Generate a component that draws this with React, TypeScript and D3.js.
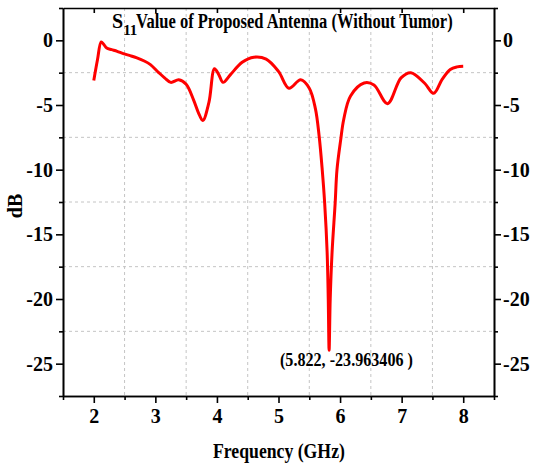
import { useEffect, useRef } from "react";
import * as d3 from "d3";

// S11 readings (GHz, dB) picked off the plot
const freq = [
  2.0, 2.06, 2.12, 2.16, 2.21, 2.29, 2.38, 2.48, 2.6, 2.7, 2.82, 2.92, 3.05, 3.15,
  3.25, 3.38, 3.5, 3.62, 3.7, 3.77, 3.87, 3.96, 4.03, 4.1, 4.22, 4.41, 4.6, 4.8,
  5.0, 5.17, 5.36, 5.5, 5.6, 5.66, 5.71, 5.75, 5.79, 5.808, 5.822, 5.84, 5.87,
  5.92, 5.95, 6.01, 6.06, 6.17, 6.39, 6.55, 6.77, 6.99, 7.15, 7.37, 7.52, 7.66,
  7.79, 7.9, 8.0,
];
const s11 = [
  -3.1, -1.5, -0.12, -0.3, -0.6, -0.72, -0.85, -1.03, -1.2, -1.36, -1.6, -1.88,
  -2.47, -2.9, -3.25, -3.05, -3.4, -4.6, -5.6, -6.2, -4.8, -2.2, -2.65, -3.25,
  -2.65, -1.7, -1.3, -1.45, -2.4, -3.7, -3.05, -3.7, -5.3, -7.4, -10.0, -12.6,
  -16.4, -20.0, -23.963406, -20.0, -16.4, -12.6, -10.0, -7.7, -6.1, -4.3, -3.3,
  -3.45, -4.9, -2.9, -2.5, -3.3, -4.1, -3.0, -2.25, -2.05, -2.0,
];
const xTicks = [2, 3, 4, 5, 6, 7, 8];
const xMinor = [1.5, 2.5, 3.5, 4.5, 5.5, 6.5, 7.5, 8.5];
const yTicks = [0, -5, -10, -15, -20, -25];
const yMinor = [2.5, -2.5, -7.5, -12.5, -17.5, -22.5, -27.5];
const minLabel = "(5.822, -23.963406 )";

export default function App() {
  const svgRef = useRef<SVGSVGElement>(null);

  useEffect(() => {
    const svg = d3.select(svgRef.current);
    svg.selectAll("*").remove();

    const x = d3.scaleLinear().domain([1.5, 8.5]).range([63, 494]);
    const y = d3.scaleLinear().domain([2.5, -27.5]).range([8, 396]);
    const font = "'Liberation Serif', 'Times New Roman', serif";
    const plain = (d: any) => String(d); // hyphen minus like the original

    // dashed grid at the half steps
    const grid = svg.append("g").attr("stroke", "#c4c4c4").attr("stroke-dasharray", "3,3");
    xMinor.slice(1, -1).forEach((v) =>
      grid.append("line").attr("x1", x(v)).attr("x2", x(v)).attr("y1", y(2.5)).attr("y2", y(-27.5))
    );
    yMinor.slice(1, -1).forEach((v) =>
      grid.append("line").attr("x1", x(1.5)).attr("x2", x(8.5)).attr("y1", y(v)).attr("y2", y(v))
    );

    const styleAxis = (g: any) => {
      g.selectAll("path, line").attr("stroke", "#000").attr("stroke-width", 1.6);
      g.selectAll("text")
        .attr("fill", "#000")
        .style("font-family", font)
        .style("font-weight", "bold")
        .style("font-size", "20px");
    };
    // minor / unlabelled axes: drop the empty text nodes
    const noText = (g: any) => {
      g.selectAll("path, line").attr("stroke", "#000").attr("stroke-width", 1.6);
      g.selectAll("text").remove();
    };

    const bottom = svg.append("g").attr("transform", `translate(0,${y(-27.5)})`);
    bottom.call(d3.axisBottom(x).tickValues(xTicks).tickSize(7).tickSizeOuter(0).tickPadding(6).tickFormat(plain));
    bottom.call(styleAxis);
    const bottomMinor = svg.append("g").attr("transform", `translate(0,${y(-27.5)})`);
    bottomMinor.call(d3.axisBottom(x).tickValues(xMinor).tickSize(4).tickSizeOuter(0));
    bottomMinor.call(noText);

    const top = svg.append("g").attr("transform", `translate(0,${y(2.5)})`);
    top.call(d3.axisBottom(x).tickValues(xTicks).tickSize(5).tickSizeOuter(0));
    top.call(noText);

    const left = svg.append("g").attr("transform", `translate(${x(1.5)},0)`);
    left.call(d3.axisLeft(y).tickValues(yTicks).tickSize(7).tickSizeOuter(0).tickPadding(3).tickFormat(plain));
    left.call(styleAxis);
    const leftMinor = svg.append("g").attr("transform", `translate(${x(1.5)},0)`);
    leftMinor.call(d3.axisLeft(y).tickValues(yMinor).tickSize(4).tickSizeOuter(0));
    leftMinor.call(noText);

    const right = svg.append("g").attr("transform", `translate(${x(8.5)},0)`);
    right.call(d3.axisRight(y).tickValues(yTicks).tickSize(7).tickSizeOuter(0).tickPadding(2).tickFormat(plain));
    right.call(styleAxis);
    const rightMinor = svg.append("g").attr("transform", `translate(${x(8.5)},0)`);
    rightMinor.call(d3.axisRight(y).tickValues(yMinor).tickSize(4).tickSizeOuter(0));
    rightMinor.call(noText);

    // the S11 curve
    const pts: [number, number][] = freq.map((f, i) => [f, s11[i]]);
    const line = d3
      .line<[number, number]>()
      .x((d) => x(d[0]))
      .y((d) => y(d[1]))
      .curve(d3.curveCatmullRom.alpha(0.5));
    svg
      .append("path")
      .datum(pts)
      .attr("d", line)
      .attr("fill", "none")
      .attr("stroke", "#ff0000")
      .attr("stroke-width", 3)
      .attr("stroke-linejoin", "round");

    // texts
    const txt = (sel: any, size: number) =>
      sel.attr("fill", "#000").style("font-family", font).style("font-weight", "bold").style("font-size", `${size}px`);

    // squeeze a text horizontally to a given width (the original font is condensed)
    const fitText = (label: string, size: number, x0: number, y0: number, w: number) => {
      const t = txt(svg.append("text"), size).text(label);
      const natural = (t.node() as SVGTextElement).getComputedTextLength() || w;
      t.attr("transform", `translate(${x0},${y0}) scale(${w / natural},1)`);
      return t;
    };

    const s = svg.append("text").attr("x", 112).attr("y", 28);
    txt(s, 20);
    s.append("tspan").text("S");
    s.append("tspan").attr("dy", 7).style("font-size", "15px").text("11");
    fitText("Value of Proposed Antenna (Without Tumor)", 20, 136, 28, 317);

    fitText("Frequency (GHz)", 20, 213, 458, 132);

    txt(svg.append("text"), 20)
      .attr("transform", "translate(22,206) rotate(-90)")
      .attr("text-anchor", "middle")
      .text("dB");

    fitText(minLabel, 18, 280, 366, 133);
  }, []);

  return (
    <svg
      ref={svgRef}
      width={534}
      height={468}
      style={{ position: "absolute", left: 0, top: 0, background: "#fff" }}
    />
  );
}
